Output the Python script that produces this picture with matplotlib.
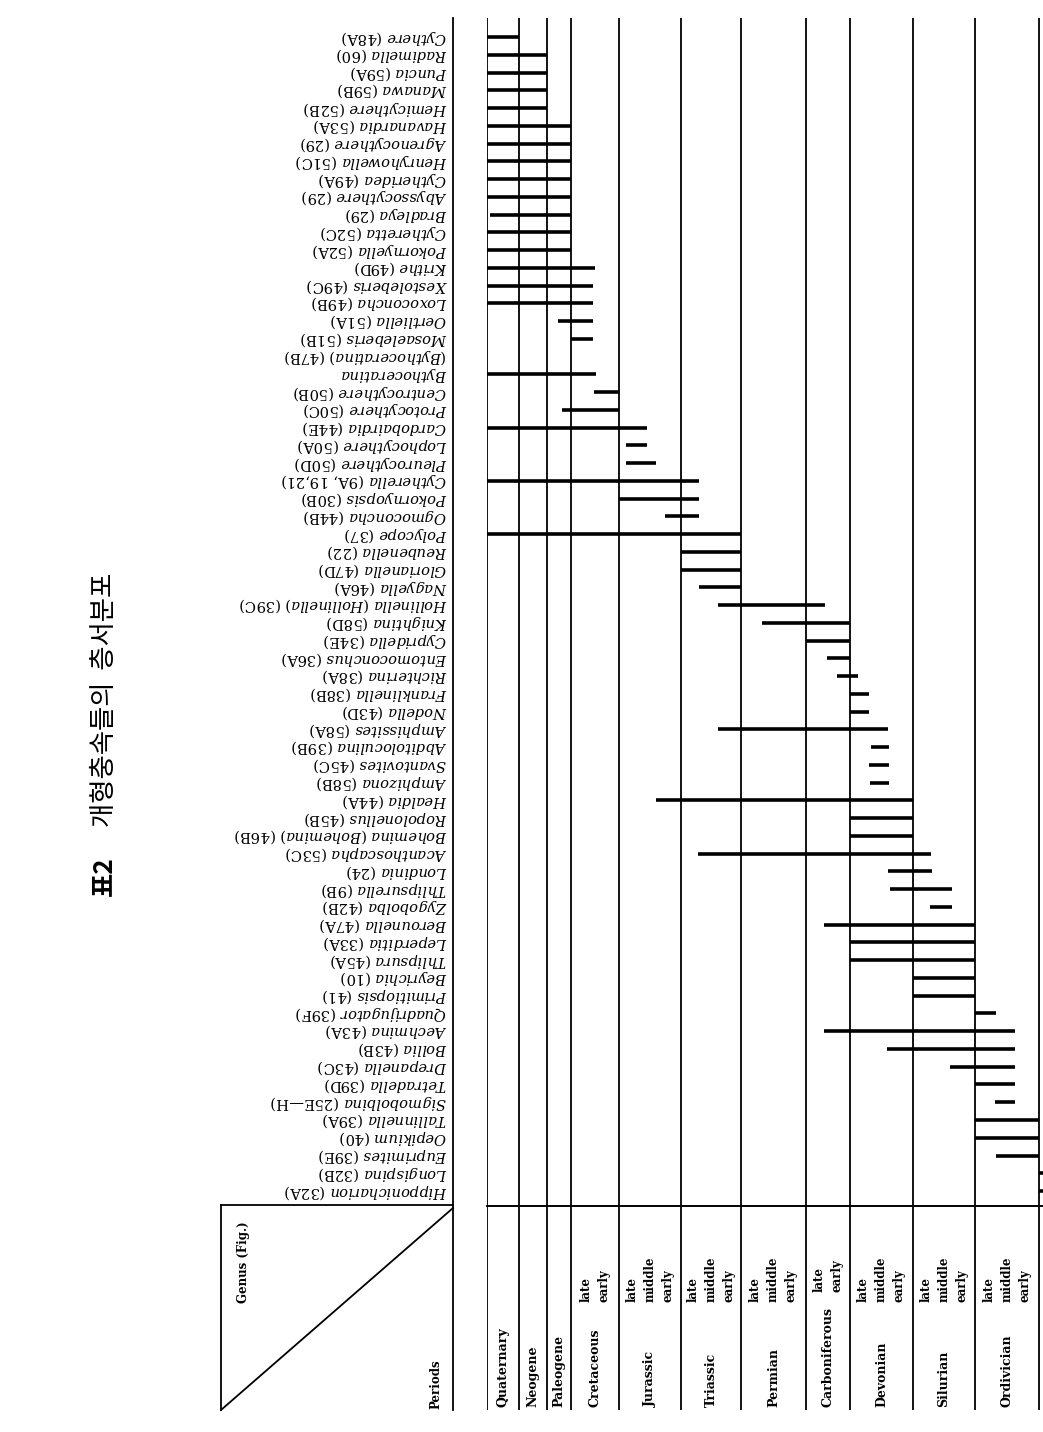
import numpy as np
import matplotlib
matplotlib.use("Agg")
import matplotlib.pyplot as plt
from matplotlib import transforms
from matplotlib.lines import Line2D

W, H = 1043, 1432

# geological columns, youngest first (left to right in the table)
periods = ["Quaternary", "Neogene", "Paleogene", "Cretaceous", "Jurassic",
           "Triassic", "Permian", "Carboniferous", "Devonian", "Silurian",
           "Ordivician"]
subdivisions = [[], [], [], ["late", "early"],
                ["late", "middle", "early"], ["late", "middle", "early"],
                ["late", "middle", "early"], ["late", "early"],
                ["late", "middle", "early"], ["late", "middle", "early"],
                ["late", "middle", "early"]]
# column edges along the time axis (table units, 0 = present)
boundaries = [0, 32, 60, 84, 132, 194, 254, 319, 363, 426, 488, 552]

# one entry per text line of the genus column, top to bottom
genus = ["Cythere", "Radimella", "Puncia", "Manawa", "Hemicythere",
         "Havanardia", "Agrenocythere", "Henryhowella", "Cytheridea",
         "Abyssocythere", "Bradleya", "Cytheretta", "Pokornyella", "Krithe",
         "Xestoleberis", "Loxoconcha", "Oertliella", "Mosaeleberis",
         "(Bythoceratina)", "Bythoceratina", "Centrocythere", "Protocythere",
         "Cardobairdia", "Lophocythere", "Pleurocythere", "Cytherella",
         "Pokornyopsis", "Ogmoconcha", "Polycope", "Reubenella",
         "Glorianella", "Nagyella", "Hollinella (Hollinella)", "Knightina",
         "Cypridella", "Entomoconchus", "Richterina", "Franklinella",
         "Nodella", "Amphissites", "Abditoloculina", "Svantovites",
         "Amphizona", "Healdia", "Ropolonellus", "Bohemina (Bohemina)",
         "Acanthoscapha", "Londinia", "Thlipsurella", "Zygobolba",
         "Berounella", "Leperditia", "Thlipsura", "Beyrichia",
         "Primitiopsis", "Quadrijugator", "Aechmina", "Bollia", "Drepanella",
         "Tetradella", "Sigmobolbina", "Tallinnella", "Oepikium",
         "Euprimites", "Longispina", "Hipponicharion"]
fig_ref = ["48A", "60", "59A", "59B", "52B", "53A", "29", "51C", "49A", "29",
           "29", "52C", "52A", "49D", "49C", "49B", "51A", "51B", "47B", "",
           "50B", "50C", "44E", "50A", "50D", "9A, 19,21", "30B", "44B", "37",
           "22", "47D", "46A", "39C", "58D", "34E", "36A", "38A", "38B", "43D",
           "58A", "39B", "45C", "58B", "44A", "45B", "46B", "53C", "24", "9B",
           "42B", "47A", "33A", "45A", "10", "41", "39F", "43A", "43B", "43C",
           "39D", "25E\u2014H", "39A", "40", "39E", "32B", "32A"]

nan = np.nan
# youngest and oldest occurrence of each genus, in table units
range_young = [0, 0, 0, 0, 0, 0, 0, 0, 0, 0, 3, 0, 0, 0, 0, 0, 71, 84, nan, 0,
               107, 75, 0, 139, 139, 0, 132, 178, 0, 194, 194, 212, 231, 275,
               319, 340, 350, 363, 363, 231, 384, 382, 383, 169, 363, 363, 211,
               401, 403, 443, 337, 363, 363, 426, 426, 488, 337, 400, 463, 488,
               508, 488, 488, 509, 552, 552]
range_old = [32, 60, 60, 60, 60, 84, 84, 84, 84, 84, 84, 84, 84, 108, 106,
             106, 106, 106, nan, 109, 132, 132, 160, 160, 169, 212, 212, 212,
             254, 254, 254, 254, 338, 363, 363, 363, 371, 382, 382, 401, 402,
             402, 402, 426, 426, 426, 444, 445, 465, 465, 488, 488, 488, 488,
             488, 509, 528, 528, 528, 528, 528, 552, 552, 552, 600, 600]

plt.rcParams["mathtext.fontset"] = "dejavuserif"
plt.rcParams["font.family"] = "DejaVu Serif"


def fx(x):
    return x / W


def fy(y):
    return 1 - y / H


fig = plt.figure(figsize=(W / 100, H / 100), dpi=100)
fig.patch.set_facecolor("white")

# table body: x = time axis, y = genus line index
row0_px, row_step = 37.0, 17.754
top_px, head_px, bot_px, left_px = 18, 1206, 1410, 487
ax = fig.add_axes([fx(left_px), fy(head_px), 1 - fx(left_px),
                   (head_px - top_px) / H])
ax.set_xlim(0, W - left_px)
ax.set_ylim((head_px - row0_px) / row_step, (top_px - row0_px) / row_step)
ax.axis("off")

hx = fig.add_axes([fx(left_px), fy(bot_px), 1 - fx(left_px),
                   (bot_px - head_px) / H], sharex=ax)
hx.set_ylim(0, 1)
hx.axis("off")

for a in (ax, hx):
    a.vlines(boundaries, *a.get_ylim(), colors="black", lw=1.3)
hx.axhline(1, color="black", lw=1.4, clip_on=False)

rows = np.arange(len(genus))
ax.hlines(rows, range_young, range_old, colors="black", lw=2.6)

# genus labels, printed upside down like the scanned page
lab_tr = transforms.blended_transform_factory(fig.transFigure, ax.transData)
for r, (name, ref) in enumerate(zip(genus, fig_ref)):
    parts = []
    for w_raw in name.split(" "):
        t = "$\\mathit{%s}$" % w_raw.strip("()")
        if w_raw.startswith("("):
            t = "(" + t + ")"
        parts.append(t)
    label = " ".join(parts) + (f" ({ref})" if ref else "")
    ax.text(fx(447), r, label, transform=lab_tr, rotation=180,
            ha="right", va="center", fontsize=10.6, clip_on=False)

# period headings
head_tr = transforms.blended_transform_factory(ax.transData, fig.transFigure)
edges = np.array(boundaries)
centers = (edges[:-1] + edges[1:]) / 2
for c, name, subs in zip(centers, periods, subdivisions):
    hx.text(c, fy(1407), name, transform=head_tr, rotation=90,
            ha="center", va="bottom", fontsize=9, fontweight="bold")
    sub_base = 1292 if name == "Carboniferous" else 1302
    for i, s in enumerate(subs):
        off = (i - (len(subs) - 1) / 2) * 18
        hx.text(c + off, fy(sub_base), s, transform=head_tr, rotation=90,
                ha="center", va="bottom", fontsize=8.5, fontweight="bold")

# frame of the genus column and the corner box
for (x0, y0), (x1, y1) in [((453, top_px), (453, bot_px)),
                           ((221, 1205), (453, 1205)),
                           ((221, 1205), (221, bot_px)),
                           ((221, bot_px), (453, 1208))]:
    fig.add_artist(Line2D([fx(x0), fx(x1)], [fy(y0), fy(y1)],
                          color="black", lw=1.3))
fig.text(fx(244), fy(1262), "Genus (Fig.)", rotation=90, ha="center",
         va="center", fontsize=8.5, fontweight="bold")
fig.text(fx(436), fy(1409), "Periods", rotation=90, ha="center",
         va="bottom", fontsize=8.5, fontweight="bold")

# title
fig.text(fx(104), fy(876), "\ud45c2", rotation=90, ha="center", va="center",
         fontsize=19, fontweight="bold", family=["Noto Sans CJK KR"])
fig.text(fx(104), fy(700), "\uac1c\ud615\ucda9\uc18d\ub4e4\uc758  \uce35\uc11c\ubd84\ud3ec",
         rotation=90, ha="center", va="center", fontsize=19,
         family=["Noto Sans CJK KR"])

fig.savefig("out.png", dpi=100)
